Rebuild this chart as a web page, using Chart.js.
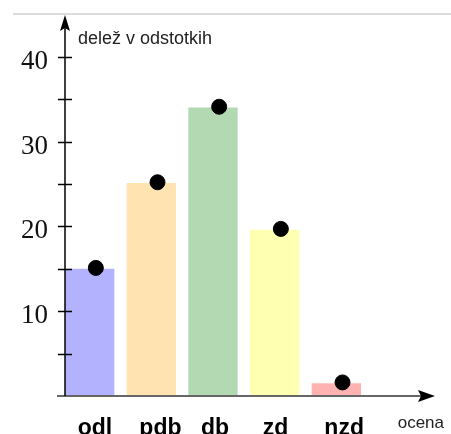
<!DOCTYPE html>
<html>
<head>
<meta charset="utf-8">
<script src="https://cdn.jsdelivr.net/npm/chart.js@4.4.0/dist/chart.umd.min.js"></script>
<style>
    body { margin: 0; background: #fff; }
    #wrap { position: relative; width: 451px; height: 434px; overflow: hidden; }
    #rule { position: absolute; left: 13px; right: 0; top: 13px; height: 2px; background: #dcdcdc; }
    canvas { position: absolute; left: 0; top: 0; }
</style>
</head>
<body>
<div id="wrap">
    <div id="rule"></div>
    <canvas id="grafico" width="451" height="434"></canvas>
</div>
<script>
const categories = ['odl', 'pdb', 'db', 'zd', 'nzd'];
const barValues = [15.0, 25.1, 34.0, 19.6, 1.5];
const pointValues = [15.1, 25.2, 34.1, 19.7, 1.6];
const barColors = ['rgba(0,0,255,0.3)', 'rgba(255,165,0,0.3)', 'rgba(0,128,0,0.3)', 'rgba(255,255,0,0.3)', 'rgba(255,0,0,0.3)'];
const yTickLabels = [10, 20, 30, 40];
const yTitle = 'delež v odstotkih';
const xTitle = 'ocena';

// axes with arrows, tick crosses and the two axis captions
const axesPlugin = {
    id: 'axes',
    afterDraw(chart) {
        const c = chart.ctx;
        const area = chart.chartArea;
        const yScale = chart.scales.y;
        const y0 = yScale.getPixelForValue(0);
        c.save();

        c.strokeStyle = '#666';
        c.lineWidth = 2;
        c.beginPath();
        c.moveTo(area.left - 8, y0);
        c.lineTo(area.right - 12, y0);
        c.stroke();
        c.fillStyle = '#000';
        c.beginPath();
        c.moveTo(area.right, y0);
        c.lineTo(area.right - 17, y0 - 6);
        c.lineTo(area.right - 14, y0);
        c.lineTo(area.right - 17, y0 + 6);
        c.closePath();
        c.fill();

        c.strokeStyle = '#000';
        c.lineWidth = 1.5;
        c.beginPath();
        c.moveTo(area.left, y0);
        c.lineTo(area.left, area.top + 10);
        c.stroke();
        c.beginPath();
        c.moveTo(area.left, area.top - 1);
        c.lineTo(area.left - 5, area.top + 15);
        c.lineTo(area.left, area.top + 12);
        c.lineTo(area.left + 5, area.top + 15);
        c.closePath();
        c.fill();

        yScale.ticks.forEach(t => {
            if (t.value % 5 !== 0 || t.value === 0) return;
            const py = Math.round(yScale.getPixelForValue(t.value)) + 0.5;
            c.beginPath();
            c.moveTo(area.left - 7, py);
            c.lineTo(area.left + 7, py);
            c.stroke();
        });

        c.fillStyle = '#222';
        c.font = '18px "Liberation Sans", Arial, sans-serif';
        c.textBaseline = 'alphabetic';
        c.textAlign = 'left';
        c.fillText(yTitle, area.left + 13, 44);
        c.font = '17px "Liberation Sans", Arial, sans-serif';
        c.textAlign = 'right';
        c.fillText(xTitle, 444, 428);
        c.restore();
    }
};

const ctx = document.getElementById('grafico').getContext('2d');
const chart = new Chart(ctx, {
    type: 'bar',
    data: {
        datasets: [{
            type: 'scatter',
            data: pointValues.map((v, i) => ({ x: i + 1, y: v })),
            xAxisID: 'x2',
            backgroundColor: '#000',
            borderColor: '#000',
            pointRadius: 7.5,
            order: 0
        }, {
            data: barValues.map((v, i) => ({ x: i + 1, y: v })),
            backgroundColor: barColors,
            borderWidth: 0,
            barPercentage: 0.8,
            categoryPercentage: 1,
            grouped: false,
            order: 1
        }]
    },
    options: {
        responsive: false,
        devicePixelRatio: 1,
        animation: false,
        layout: { padding: { top: 16, right: 16, left: 0, bottom: 0 } },
        plugins: {
            legend: { display: false },
            tooltip: { enabled: false }
        },
        scales: {
            x: {
                type: 'linear',
                min: 0.6,
                max: 6.6,
                offset: false,
                grid: { display: false, drawTicks: false },
                border: { display: false },
                afterBuildTicks: function(scale) {
                    scale.ticks = categories.map((c, i) => ({ value: i + 1 }));
                },
                afterFit: function(scale) {
                    scale.height = 38;
                    scale.paddingLeft = 0;
                    scale.paddingRight = 0;
                },
                ticks: {
                    autoSkip: false,
                    maxRotation: 0,
                    align: 'start',
                    labelOffset: -12,
                    padding: 19,
                    color: '#000',
                    font: { family: '"Liberation Sans", Arial, sans-serif', size: 23, weight: 'bold' },
                    callback: function(value) {
                        return categories[value - 1] || '';
                    }
                }
            },
            x2: {
                type: 'linear',
                display: false,
                offset: false,
                min: 0.5,
                max: 6.5
            },
            y: {
                min: 0,
                max: 44.8,
                grid: { display: false, drawTicks: false },
                border: { display: false },
                afterFit: function(scale) {
                    scale.width = 65;
                    scale.paddingTop = 0;
                    scale.paddingBottom = 0;
                },
                ticks: {
                    stepSize: 5,
                    padding: 17,
                    labelOffset: 5,
                    color: '#111',
                    font: { family: '"Liberation Serif", "Times New Roman", serif', size: 27 },
                    callback: function(value) {
                        return yTickLabels.includes(value) ? value : '';
                    }
                }
            }
        }
    },
    plugins: [axesPlugin]
});
</script>
</body>
</html>
